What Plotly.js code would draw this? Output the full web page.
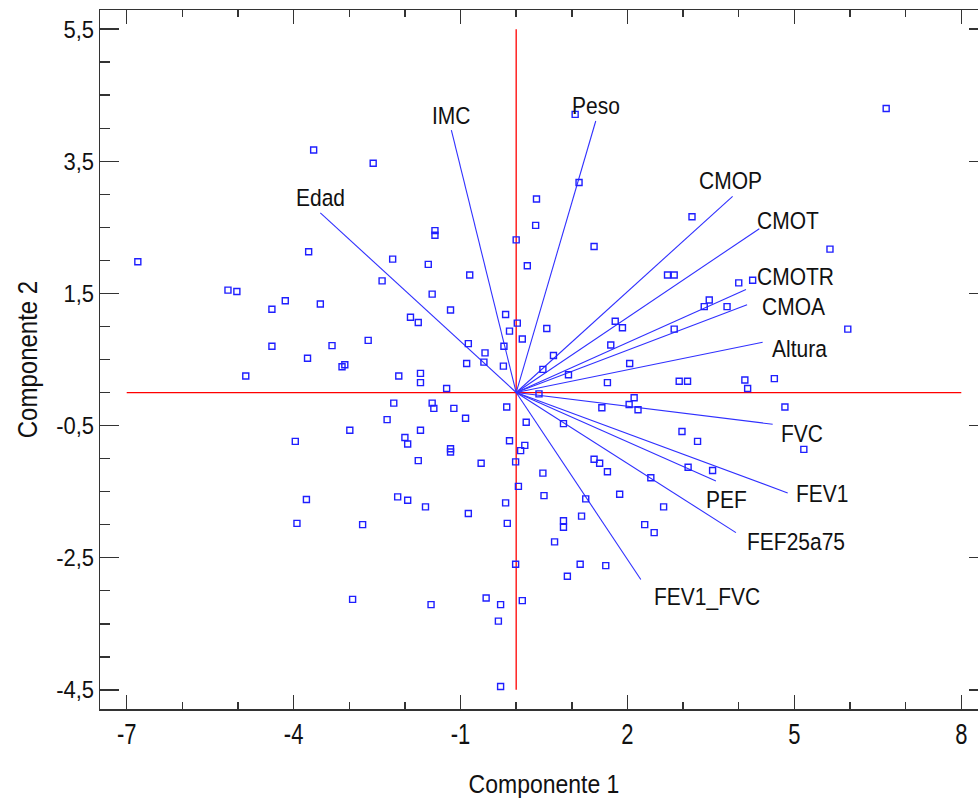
<!DOCTYPE html>
<html>
<head>
<meta charset="utf-8">
<script src="https://cdn.plot.ly/plotly-3.0.1.min.js"></script>
<style>
  html, body { margin: 0; padding: 0; overflow: hidden; background: #fff; }
  #chart { width: 990px; height: 804px; }
</style>
</head>
<body>
<div id="chart"></div>
<script>
// Biplot: scores of the observations on the first two principal components
// together with the loading vectors of each variable.

// Observation scores (Componente 1, Componente 2)
const scoreX = [
  -3.64, -3.73, -6.80, -2.57, 0.365, 0.35, -1.46, -1.46, 0.00, 1.13, 1.06, 1.40, -2.22, -1.58, 0.20, 3.16, 5.64, 6.65,
  -5.18, -5.02, -4.39, -4.15, -3.52, -4.39, -3.75, -4.86, -3.97, -3.77, -3.94,
  -0.835, -2.41, -1.51, -1.18, -1.90, -1.76, -0.19, 0.02, -0.12, 0.55, 0.11, 1.78, 1.91, 1.70, 2.04,
  -3.31, -2.66, -3.08, -3.13, -0.86, -0.56, -0.58, -0.89, -0.22, -0.23, 0.67, 0.48, 0.94, 1.64,
  -2.11, -1.72, -1.72, -1.25, 0.41, -2.20, -1.51, -1.48, -1.12, -0.17, 1.54,
  -2.32, -2.99, -1.72, -0.91, 0.18, 0.85, -2.00, -1.95, -1.18, -1.18, -0.12, 0.155, 0.08,
  -1.76, -0.63, -0.01, 0.48, 1.40, 1.50, 1.64, 0.04, 0.50, 1.25, 1.86,
  -2.13, -1.95, -1.63, -0.86, -0.19, -0.16, -2.76, 0.85, 0.85, 1.175,
  0.69, -0.01, 1.15, 1.61, 0.92, -2.94, -1.53, -0.54, -0.28, 0.11, -0.32, -0.28,
  2.72, 2.84, 4.00, 4.25, 3.47, 3.38, 3.79, 2.84, 5.96, 2.93, 3.08, 4.11, 4.16, 4.64,
  2.12, 2.03, 2.19, 4.83, 2.98, 3.26, 5.17, 3.09, 3.53, 2.42, 2.65, 2.31, 2.48
];
const scoreY = [
  3.67, 2.13, 1.98, 3.47, 2.93, 2.53, 2.45, 2.38, 2.31, 3.18, 4.21, 2.21, 2.02, 1.94, 1.92, 2.66, 2.17, 4.30,
  1.55, 1.53, 1.26, 1.39, 1.34, 0.70, 0.52, 0.25, -0.74, -1.62, -1.98,
  1.78, 1.69, 1.49, 1.25, 1.14, 1.06, 1.18, 1.05, 0.93, 0.97, 0.81, 1.08, 0.98, 0.72, 0.44,
  0.71, 0.79, 0.42, 0.39, 0.74, 0.60, 0.46, 0.44, 0.70, 0.40, 0.56, 0.35, 0.27, 0.15,
  0.25, 0.29, 0.15, 0.06, -0.02, -0.16, -0.16, -0.24, -0.24, -0.22, -0.23,
  -0.41, -0.57, -0.57, -0.39, -0.45, -0.47, -0.68, -0.78, -0.85, -0.90, -0.73, -0.80, -0.88,
  -1.03, -1.07, -1.05, -1.22, -1.01, -1.07, -1.20, -1.42, -1.56, -1.61, -1.54,
  -1.58, -1.63, -1.73, -1.83, -1.67, -1.98, -2.00, -1.94, -2.04, -1.87,
  -2.26, -2.60, -2.60, -2.62, -2.78, -3.13, -3.21, -3.11, -3.21, -3.15, -3.46, -4.45,
  1.78, 1.78, 1.66, 1.70, 1.40, 1.30, 1.30, 0.96, 0.96, 0.17, 0.17, 0.19, 0.06, 0.21,
  -0.08, -0.18, -0.26, -0.22, -0.59, -0.74, -0.86, -1.13, -1.18, -1.29, -1.73, -2.00, -2.12
];

// Variable loading vectors (end points, drawn from the origin)
const variables = ["Edad", "IMC", "Peso", "CMOP", "CMOT", "CMOTR", "CMOA", "Altura",
                   "FVC", "FEV1", "PEF", "FEF25a75", "FEV1_FVC"];
const loadX = [-3.52, -1.165, 1.43, 3.89, 4.37, 4.13, 4.15, 4.43, 4.61, 4.88, 3.59, 3.95, 2.24];
const loadY = [ 2.72,  3.97,  4.11, 2.97, 2.48, 1.56, 1.33, 0.76, -0.48, -1.52, -1.34, -2.12, -2.83];

// Axis ticks
const xTickVals = [-7, -4, -1, 2, 5, 8];
const xTickText = ["-7", "-4", "-1", "2", "5", "8"];
const yTickVals = [5.5, 3.5, 1.5, -0.5, -2.5, -4.5];
const yTickText = ["5,5", "3,5", "1,5", "-0,5", "-2,5", "-4,5"];

// Reference cross through the origin
const crossX = [-7, 8];
const crossY = [-4.5, 5.5];

// ---- drawing ----
const FONT = "Arial, 'Liberation Sans', sans-serif";
const BLUE = "#1f1fff";

// label placement relative to each vector tip (pixels)
const labelPlace = {
  "Edad":     {xa: "center", dx: 0,   dy: -15},
  "IMC":      {xa: "center", dx: 0,   dy: -15},
  "Peso":     {xa: "center", dx: 0,   dy: -15},
  "CMOP":     {xa: "center", dx: -2,  dy: -16},
  "CMOT":     {xa: "left",   dx: -4,  dy: -8},
  "CMOTR":    {xa: "left",   dx: 9,   dy: -13},
  "CMOA":     {xa: "left",   dx: 13,  dy: 2},
  "Altura":   {xa: "left",   dx: 7,   dy: 6},
  "FVC":      {xa: "left",   dx: 6,   dy: 9},
  "FEV1":     {xa: "left",   dx: 6,   dy: 1},
  "PEF":      {xa: "left",   dx: -12, dy: 18},
  "FEF25a75": {xa: "left",   dx: 9,   dy: 9},
  "FEV1_FVC": {xa: "left",   dx: 11,  dy: 17}
};

const vecX = [], vecY = [];
variables.forEach((v, i) => {
  vecX.push(0, loadX[i], null);
  vecY.push(0, loadY[i], null);
});

const traces = [
  {
    x: [crossX[0], crossX[1], null, 0, 0],
    y: [0, 0, null, crossY[0], crossY[1]],
    mode: "lines", type: "scatter", hoverinfo: "skip",
    line: {color: "#ff0000", width: 1.3}
  },
  {
    x: vecX, y: vecY,
    mode: "lines", type: "scatter", hoverinfo: "skip",
    line: {color: "#3030ff", width: 1.1}
  },
  {
    x: scoreX, y: scoreY,
    mode: "markers", type: "scatter",
    marker: {symbol: "square-open", size: 6, color: BLUE, line: {width: 1.4, color: BLUE}}
  }
];

const annotations = variables.map((v, i) => {
  const p = labelPlace[v];
  return {
    x: loadX[i], y: loadY[i], xref: "x", yref: "y",
    text: v, showarrow: false,
    xanchor: p.xa, yanchor: "middle",
    xshift: p.dx, yshift: -p.dy,
    font: {family: FONT, size: 21, color: "#111"}
  };
});

const axisCommon = {
  showgrid: false, zeroline: false,
  showline: true, linecolor: "#333", linewidth: 1.5,
  mirror: "ticks", ticks: "inside", tickcolor: "#333", tickwidth: 1.5,
  tickmode: "array", fixedrange: true
};

const layout = {
  width: 990, height: 804,
  margin: {l: 100, r: 2, t: 10, b: 95},
  paper_bgcolor: "#fff", plot_bgcolor: "#fff",
  showlegend: false,
  xaxis: Object.assign({}, axisCommon, {
    range: [-7.48, 8.48],
    tickvals: xTickVals, ticktext: xTickText, ticklen: 14,
    tickfont: {family: FONT, size: 22, color: "#111"},
    ticklabelstandoff: 5,
    minor: {tickmode: "linear", tick0: 0, dtick: 1, ticks: "inside", ticklen: 7, tickcolor: "#333", tickwidth: 1.5},
    title: {text: "Componente 1", font: {family: FONT, size: 23, color: "#111"}, standoff: 30}
  }),
  yaxis: Object.assign({}, axisCommon, {
    range: [-4.79, 5.79],
    tickvals: yTickVals, ticktext: yTickText, ticklen: 19,
    tickfont: {family: FONT, size: 22, color: "#111"},
    minor: {tickmode: "linear", tick0: 0.5, dtick: 0.5, ticks: "inside", ticklen: 10, tickcolor: "#333", tickwidth: 1.5},
    title: {text: "Componente 2", font: {family: FONT, size: 24, color: "#111"}, standoff: 13}
  }),
  annotations: annotations
};

// The text in this chart is set a little taller than wide; stretch each
// text element vertically about its own centre.
function stretchText(selector, k) {
  document.querySelectorAll(selector).forEach(el => {
    const b = el.getBBox();
    const cy = b.y + b.height / 2;
    const t = el.getAttribute("transform") || "";
    el.setAttribute("transform",
      (t + ` translate(0,${cy}) scale(1,${k}) translate(0,${-cy})`).trim());
  });
}

Plotly.newPlot("chart", traces, layout, {staticPlot: true, displayModeBar: false}).then(() => {
  stretchText(".xtick text", 1.3);
  stretchText(".ytick text", 1.1);
  stretchText(".g-xtitle text", 1.1);
  stretchText(".g-ytitle text", 1.15);
  stretchText(".annotation-text", 1.18);
});
</script>
</body>
</html>
